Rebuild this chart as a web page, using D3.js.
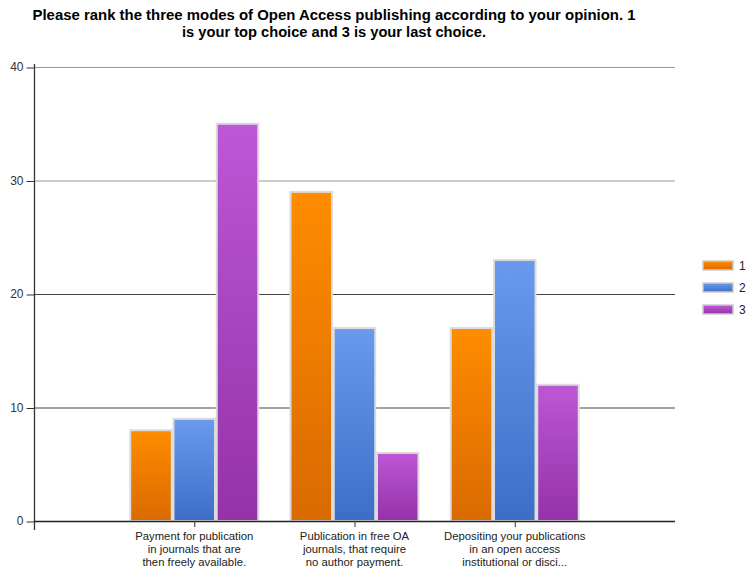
<!DOCTYPE html>
<html><head><meta charset="utf-8">
<script src="https://cdn.jsdelivr.net/npm/d3@7"></script>
<style>body{margin:0;background:#fff}svg{display:block}</style>
</head><body>
<script>
const titleLines = ["Please rank the three modes of Open Access publishing according to your opinion. 1","is your top choice and 3 is your last choice."];
const categories = ["Payment for publication in journals that are then freely available.","Publication in free OA journals, that require no author payment.","Depositing your publications in an open access institutional or disci..."];
const categoryLines = [["Payment for publication","in journals that are","then freely available."],["Publication in free OA","journals, that require","no author payment."],["Depositing your publications","in an open access","institutional or disci..."]];
const seriesNames = ["1","2","3"];
const series1 = [8,29,17];
const series2 = [9,17,23];
const series3 = [35,6,12];
const yTicks = [0,10,20,30,40];
const seriesValues = [series1, series2, series3];
const colors = [["#ff8c00","#d96a00"],["#6a9aee","#3d6ec6"],["#bd57d6","#9531a9"]];

const W=746,H=569;
const svg=d3.select("body").append("svg").attr("width",W).attr("height",H);
const defs=svg.append("defs");
colors.forEach((c,i)=>{
  const g=defs.append("linearGradient").attr("id","g"+i).attr("x1",0).attr("y1",0).attr("x2",0).attr("y2",1);
  g.append("stop").attr("offset","0%").attr("stop-color",c[0]);
  g.append("stop").attr("offset","100%").attr("stop-color",c[1]);
});

const x0=34,x1=675,yTop=67,yBot=521;
const x=d3.scalePoint().domain(categories).range([x0,x1]).padding(1);
const y=d3.scaleLinear().domain([0,40]).range([yBot,yTop]);
const xs=d3.scaleBand().domain(seriesNames).range([-64,64]).paddingInner(0.04);

// title
const tw=[603,304];
titleLines.forEach((t,i)=>{
  svg.append("text").attr("x",334).attr("y",20+i*17).attr("text-anchor","middle")
    .attr("font-family","Liberation Sans, Arial, sans-serif").attr("font-weight","bold").attr("font-size",14)
    .attr("textLength",tw[i]).attr("lengthAdjust","spacingAndGlyphs").attr("fill","#000").text(t);
});

// gridlines
svg.append("g").selectAll("line").data(yTicks.filter(d=>d>0)).join("line")
  .attr("x1",x0).attr("x2",x1).attr("y1",d=>y(d)+0.5).attr("y2",d=>y(d)+0.5)
  .attr("stroke",d=>d>=30?"#999":"#444").attr("stroke-width",1.2);

// y axis
const ya=svg.append("g").attr("transform",`translate(${x0+0.5},0)`)
  .call(d3.axisLeft(y).tickValues(yTicks).tickSize(8).tickPadding(3).tickSizeOuter(0));
ya.select(".domain").remove();
ya.selectAll(".tick line").attr("stroke","#333").attr("transform","translate(0,0.5)");
ya.selectAll(".tick text").attr("font-family","Liberation Sans, Arial, sans-serif").attr("font-size",12).attr("fill","#333");
svg.append("line").attr("x1",x0+0.5).attr("x2",x0+0.5).attr("y1",yTop-3).attr("y2",yBot+9).attr("stroke","#333").attr("stroke-width",1.3);

// bars
const groups=svg.append("g").selectAll("g").data(categories).join("g")
  .attr("transform",d=>`translate(${x(d)},0)`);
groups.selectAll("rect").data((d,ci)=>seriesNames.map((s,si)=>({s,si,v:seriesValues[si][ci]}))).join("rect")
  .attr("x",d=>xs(d.s)).attr("width",xs.bandwidth())
  .attr("y",d=>y(d.v)).attr("height",d=>yBot-y(d.v))
  .attr("fill",d=>`url(#g${d.si})`).attr("stroke","#dcdcdc").attr("stroke-width",2);

// x axis
svg.append("line").attr("x1",x0).attr("x2",x1).attr("y1",yBot+0.5).attr("y2",yBot+0.5).attr("stroke","#222").attr("stroke-width",1.5);
const xa=svg.append("g").attr("transform",`translate(0,${yBot})`)
  .call(d3.axisBottom(x).tickSize(6).tickFormat(""));
xa.select(".domain").remove();
xa.selectAll(".tick line").attr("stroke","#333");
categories.forEach((c,i)=>{
  const t=svg.append("text").attr("text-anchor","middle").attr("font-family","Liberation Sans, Arial, sans-serif")
    .attr("font-size",11.3).attr("fill","#222");
  categoryLines[i].forEach((l,j)=>t.append("tspan").attr("x",x(c)).attr("y",540+j*13).text(l));
});

// legend
const lg=svg.append("g").selectAll("g").data(seriesNames).join("g")
  .attr("transform",(d,i)=>`translate(703,${261+i*22})`);
lg.append("rect").attr("width",30).attr("height",9).attr("fill",(d,i)=>`url(#g${i})`).attr("stroke","#ccc").attr("stroke-width",1.5);
lg.append("text").attr("x",36).attr("y",9).attr("font-family","Liberation Sans, Arial, sans-serif").attr("font-size",12).attr("fill","#222").text(d=>d);
</script>
</body></html>
